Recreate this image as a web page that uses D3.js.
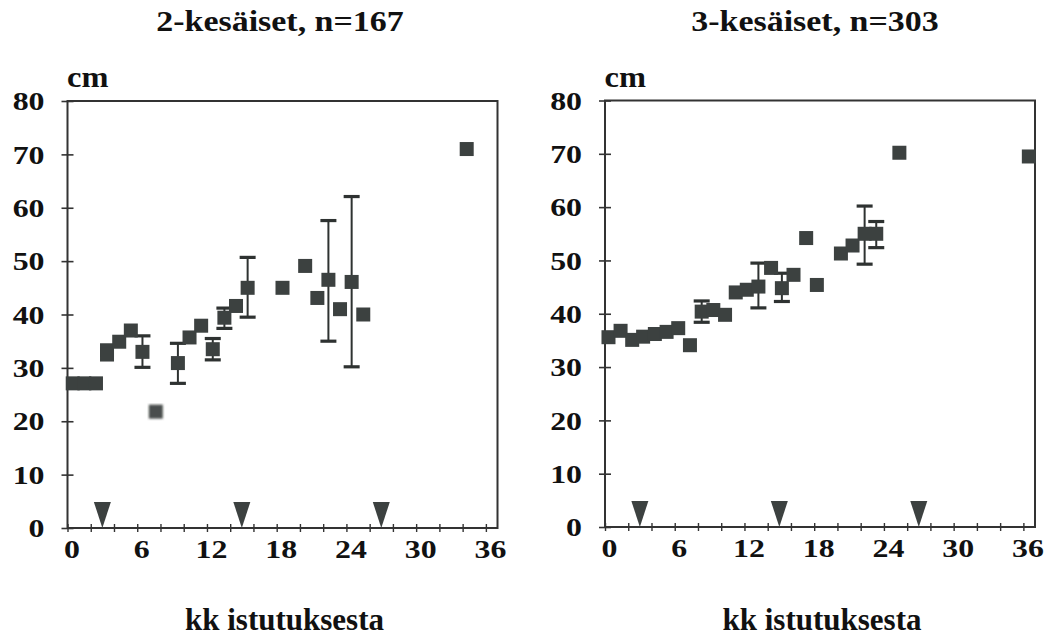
<!DOCTYPE html>
<html>
<head>
<meta charset="utf-8">
<script src="https://cdn.jsdelivr.net/npm/d3@7/dist/d3.min.js"></script>
</head>
<body style="margin:0;background:#fff">
<svg id="chart" width="1061" height="636" style="display:block"></svg>
<script>
// Tree heights (cm) by months since planting
const titles = ["2-kesäiset, n=167", "3-kesäiset, n=303"];
const yLabel = "cm";
const xLabel = "kk istutuksesta";
const xTickLabels = [0, 6, 12, 18, 24, 30, 36];
const yTickLabels = [0, 10, 20, 30, 40, 50, 60, 70, 80];

// 2-year-old seedlings
const monthsA  = [0.45, 1.45, 2.45, 3.4, 3.4, 4.45, 5.45, 6.45, 7.6, 9.5, 10.5, 11.5, 12.5, 13.5, 14.5, 15.5, 18.5, 20.45, 21.5, 22.45, 23.45, 24.45, 25.45, 34.35];
const heightA  = [27.1, 27.1, 27.1, 33.3, 32.5, 34.9, 37.0, 33.0, 21.8, 30.9, 35.7, 37.9, 33.5, 39.4, 41.6, 45.0, 45.0, 49.1, 43.1, 46.5, 41.0, 46.1, 40.0, 71.0];
const lowA     = [null, null, null, null, null, null, null, 30.1, null, 27.1, null, null, 31.5, 37.4, null, 39.5, null, null, null, 35.0, null, 30.2, null, null];
const highA    = [null, null, null, null, null, null, null, 36.0, null, 34.6, null, null, 35.5, 41.2, null, 50.7, null, null, null, 57.6, null, 62.1, null, null];
const eventsA  = [3, 15, 27];

// 3-year-old seedlings
const monthsB  = [0.3, 1.34, 2.34, 3.28, 4.29, 5.3, 6.3, 7.31, 8.32, 9.32, 10.33, 11.25, 12.2, 13.2, 14.29, 15.22, 16.22, 17.31, 18.23, 20.3, 21.3, 22.34, 23.34, 25.33, 36.47];
const heightB  = [35.6, 36.8, 35.1, 35.7, 36.2, 36.6, 37.3, 34.1, 40.4, 40.7, 39.8, 44.0, 44.5, 45.1, 48.6, 44.8, 47.3, 54.2, 45.4, 51.3, 52.8, 55.0, 55.0, 70.2, 69.5];
const lowB     = [null, null, null, null, null, null, null, null, 38.4, null, null, null, null, 41.1, null, 42.3, null, null, null, null, null, 49.3, 52.4, null, null];
const highB    = [null, null, null, null, null, null, null, null, 42.4, null, null, null, null, 49.5, null, 47.6, null, null, null, null, null, 60.2, 57.3, null, null];
const eventsB  = [3, 15, 27];

const ink = "#3c4140";
const axisInk = "#333";
const svg = d3.select("#chart");

// soft edge for the one washed-out marker
svg.append("defs").append("filter").attr("id", "soft")
  .append("feGaussianBlur").attr("stdDeviation", 0.8);

const panels = [
  { title: titles[0], months: monthsA, height: heightA, low: lowA, high: highA, events: eventsA,
    xr: [67.5, 497.5], yr: [528, 101], titleX: 280, faded: new Set([8]) },
  { title: titles[1], months: monthsB, height: heightB, low: lowB, high: highB, events: eventsB,
    xr: [605, 1035], yr: [527, 100.5], titleX: 815, faded: new Set() }
];

function serifText(sel, size) {
  return sel.attr("font-family", "Liberation Serif")
    .style("font-family", '"Liberation Serif"')
    .style("font-weight", "bold")
    .style("font-size", size + "px").attr("fill", "#111");
}

panels.forEach(p => {
  const x = d3.scaleLinear().domain([0, 37]).range(p.xr);
  const y = d3.scaleLinear().domain([0, 80]).range(p.yr);
  const g = svg.append("g");
  const [x0, x1] = p.xr, [y0, y1] = p.yr;

  // y axis
  const ya = g.append("g").attr("transform", `translate(${x0},0)`)
    .call(d3.axisLeft(y).tickValues(yTickLabels).tickSize(6));
  ya.attr("font-family", null).attr("font-size", null);
  ya.select(".domain").remove();
  ya.selectAll(".tick line").attr("x1", 6).attr("x2", -6)
    .attr("stroke", axisInk).attr("stroke-width", 1.6);
  serifText(ya.selectAll(".tick text")
    .attr("x", null).attr("dy", "0.34em")
    .attr("transform", "translate(-23,0) scale(1.25,1)")
    .attr("text-anchor", "end"), 25.5);

  // x axis
  const xa = g.append("g").attr("transform", `translate(0,${y0})`)
    .call(d3.axisBottom(x).tickValues(d3.range(0, 37, 2)).tickSize(4)
      .tickFormat(d => xTickLabels.includes(d) ? d : ""));
  xa.attr("font-family", null).attr("font-size", null);
  xa.select(".domain").remove();
  xa.selectAll(".tick line").attr("y1", -4).attr("y2", 4)
    .attr("stroke", axisInk).attr("stroke-width", 1.4);
  serifText(xa.selectAll(".tick text")
    .attr("y", null).attr("dy", null)
    .attr("transform", "translate(4,30) scale(1.25,1)")
    .attr("text-anchor", "middle"), 25.5);

  // title
  serifText(g.append("text")
    .attr("transform", `translate(${p.titleX},31) scale(1.17,1)`)
    .attr("text-anchor", "middle"), 29)
    .text(p.title);

  // unit label
  serifText(g.append("text")
    .attr("transform", `translate(${x0 - 0.5},87) scale(1.08,1)`), 30)
    .text(yLabel);

  // x-axis caption
  serifText(g.append("text")
    .attr("x", (x0 + x1) / 2 + 2).attr("y", 630)
    .attr("text-anchor", "middle"), 31)
    .text(xLabel);

  // frame
  g.append("rect")
    .attr("x", x0).attr("y", y1)
    .attr("width", x1 - x0).attr("height", y0 - y1)
    .attr("fill", "none").attr("stroke", axisInk).attr("stroke-width", 2);

  // error bars
  const idx = d3.range(p.months.length).filter(i => p.low[i] != null);
  const eb = g.append("g").attr("stroke", "#2e3231");
  idx.forEach(i => {
    const cx = x(p.months[i]);
    eb.append("line").attr("x1", cx).attr("x2", cx)
      .attr("y1", y(p.low[i])).attr("y2", y(p.high[i])).attr("stroke-width", 2);
    [p.low[i], p.high[i]].forEach(v => {
      eb.append("line").attr("x1", cx - 8).attr("x2", cx + 8)
        .attr("y1", y(v)).attr("y2", y(v)).attr("stroke-width", 3.2);
    });
  });

  // markers
  const s = 14;
  g.append("g").selectAll("rect")
    .data(d3.range(p.months.length))
    .join("rect")
    .attr("x", i => x(p.months[i]) - s / 2)
    .attr("y", i => y(p.height[i]) - s / 2)
    .attr("width", s).attr("height", s)
    .attr("fill", i => p.faded.has(i) ? "#4a4e4d" : ink)
    .attr("filter", i => p.faded.has(i) ? "url(#soft)" : null);

  // event triangles on the x axis
  g.append("g").selectAll("path")
    .data(p.events)
    .join("path")
    .attr("d", m => {
      const cx = x(m), by = y(0);
      return `M${cx - 8.5},${by - 26} L${cx + 8.5},${by - 26} L${cx},${by} Z`;
    })
    .attr("fill", ink);
});
</script>
</body>
</html>
